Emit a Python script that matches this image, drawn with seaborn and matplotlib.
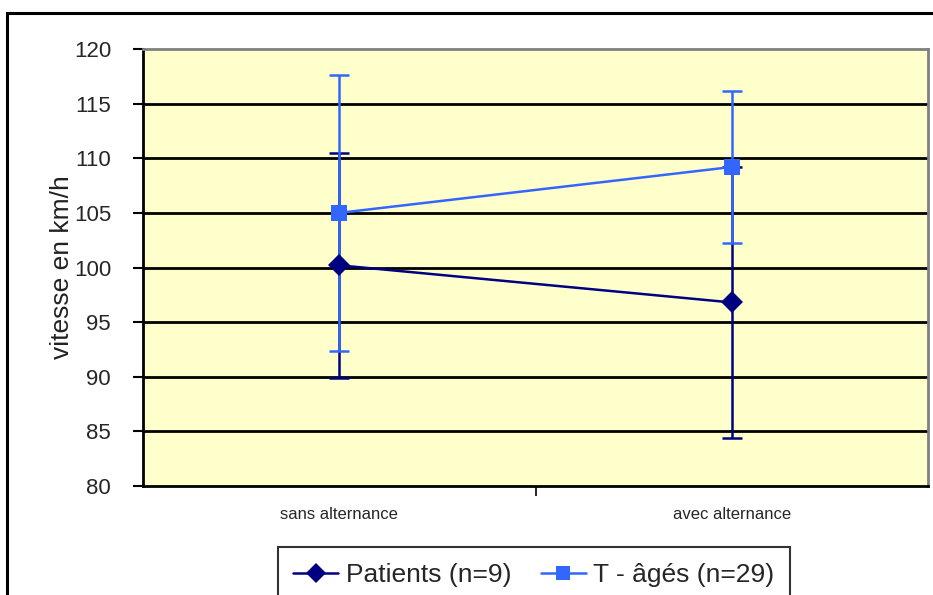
import matplotlib
matplotlib.use("Agg")
import matplotlib.pyplot as plt
import pandas as pd
import seaborn as sns
from matplotlib.patches import Rectangle
from matplotlib.ticker import FixedLocator

# data
conditions = ["sans alternance", "avec alternance"]
series_names = ["Patients (n=9)", "T - âgés (n=29)"]
patients_mean = [100.2, 96.8]
patients_sd = [10.3, 12.4]
ages_mean = [105.0, 109.2]
ages_sd = [12.6, 7.0]
y_ticks = [80, 85, 90, 95, 100, 105, 110, 115, 120]
y_label = "vitesse en km/h"

colors = {series_names[0]: "#000080", series_names[1]: "#3366FF"}
markers = {series_names[0]: "D", series_names[1]: "s"}

df = pd.DataFrame({
    "condition": conditions * 2,
    "x": list(range(len(conditions))) * 2,
    "serie": [series_names[0]] * 2 + [series_names[1]] * 2,
    "vitesse": patients_mean + ages_mean,
    "sd": patients_sd + ages_sd,
})

sns.set_theme(style="white")
plt.rcParams["font.family"] = ["Liberation Sans", "DejaVu Sans"]

fig = plt.figure(figsize=(9.33, 5.95), dpi=100)
ax = fig.add_axes([143 / 933, 1 - 486 / 595, 785 / 933, 437 / 595])
ax.set_facecolor("#FFFFCC")

# grid lines (Excel-style black major gridlines)
for yv in y_ticks[1:-1]:
    ax.axhline(yv, color="black", lw=2, zorder=1)

# error bars first, then lines + markers through seaborn
for name in series_names:
    sub = df[df["serie"] == name]
    ax.errorbar(sub["x"], sub["vitesse"], yerr=sub["sd"], fmt="none",
                ecolor=colors[name], elinewidth=1.8, capsize=7, capthick=1.8,
                zorder=3)

sns.lineplot(data=df, x="x", y="vitesse", hue="serie", style="serie",
             palette=colors, markers=markers, dashes=False, lw=1.8,
             markersize=11, markeredgewidth=0, ax=ax, zorder=4,
             legend=False)

ax.set_xlim(-0.5, 1.5)
ax.set_ylim(80, 120)
ax.set_yticks(y_ticks)
ax.set_yticklabels([str(t) for t in y_ticks], fontsize=16)
ax.set_xticks(range(len(conditions)))
ax.set_xticklabels(conditions, fontsize=12)
ax.xaxis.set_minor_locator(FixedLocator([0.5]))
ax.tick_params(axis="x", which="major", length=0, pad=15)
ax.tick_params(axis="x", which="minor", length=7, width=1.2, color="black",
               direction="out", bottom=True)
ax.tick_params(axis="y", length=7, width=1.5, color="black", direction="out",
               left=True, pad=16)
ax.set_xlabel("")
ax.set_ylabel(y_label, fontsize=19, labelpad=0, color="#222222")

for side in ["left", "bottom"]:
    ax.spines[side].set_color("black")
    ax.spines[side].set_linewidth(2)
for side in ["top", "right"]:
    ax.spines[side].set_color("#808080")
    ax.spines[side].set_linewidth(2)

# outer chart frame
fig.patches.append(Rectangle((7 / 933, -0.05), 1.0, 1 - 13 / 595 + 0.05,
                             transform=fig.transFigure, fill=False,
                             edgecolor="black", lw=2.2, zorder=0))

handles = [plt.Line2D([], [], color=colors[n], marker=markers[n], lw=1.8,
                      markersize=10, markeredgewidth=0) for n in series_names]
leg = fig.legend(handles, series_names, loc="upper center", ncol=2,
                 bbox_to_anchor=(534 / 933, 1 - 547 / 595), fontsize=19,
                 frameon=True, fancybox=False, handlelength=1.7,
                 handletextpad=0.3, columnspacing=1.1, borderpad=0.6,
                 borderaxespad=0, edgecolor="black")
leg.get_frame().set_linewidth(1.5)

fig.savefig("out.png", dpi=100, facecolor="white")
